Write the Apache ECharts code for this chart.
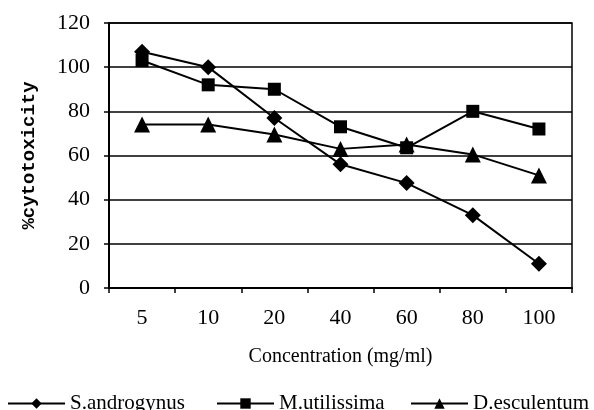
<!DOCTYPE html>
<html><head><meta charset="utf-8">
<script src="https://cdn.jsdelivr.net/npm/echarts@6/dist/echarts.min.js"></script>
<style>html,body{margin:0;padding:0;background:#fff}#c{width:594px;height:410px}</style>
</head><body><div id="c"></div>
<script>
const categories = ['5','10','20','40','60','80','100'];
const sAndrogynus = [107, 100, 77, 56, 47.5, 33, 11];
const mUtilissima = [103, 92, 90, 73, 63.5, 80, 72];
const dEsculentum = [74, 74, 69.5, 63, 65, 60.5, 51];
const seriesNames = ['S.androgynus', 'M.utilissima', 'D.esculentum'];

const font = 'Liberation Serif, Times New Roman, serif';
const chart = echarts.init(document.getElementById('c'));
function mk(name, data, symbol, size) {
  return {
    name, type: 'line', data, symbol, symbolSize: size,
    itemStyle: { color: '#000' },
    lineStyle: { color: '#000', width: 2 },
    emphasis: { disabled: true }, animation: false
  };
}
function lg(name, left) {
  return {
    top: 388, left, itemWidth: 57, itemHeight: 13, padding: [5, 0, 5, 5],
    textStyle: { fontFamily: font, fontSize: 21, color: '#000' },
    data: [name]
  };
}
chart.setOption({
  animation: false,
  grid: { left: 109, right: 22, top: 23, bottom: 122, show: true, borderColor: '#000', borderWidth: 1.5, backgroundColor: 'transparent' },
  legend: [lg(seriesNames[0], 2), lg(seriesNames[1], 211), lg(seriesNames[2], 405)],
  xAxis: {
    type: 'category', data: categories, boundaryGap: true,
    name: 'Concentration (mg/ml)', nameLocation: 'middle', nameGap: 59,
    nameTextStyle: { fontFamily: font, fontSize: 20, color: '#000' },
    axisLine: { lineStyle: { color: '#000', width: 2 } },
    axisTick: { show: true, length: 5, lineStyle: { color: '#000', width: 1.5 } },
    axisLabel: { fontFamily: font, fontSize: 22, color: '#000', margin: 19 }
  },
  yAxis: {
    type: 'value', min: 0, max: 120, interval: 20,
    name: '%cytotoxicity', nameLocation: 'middle', nameGap: 70, nameRotate: 90,
    nameTextStyle: { fontFamily: 'Liberation Mono, DejaVu Sans Mono, monospace', fontSize: 19, color: '#000', fontWeight: 'bold' },
    axisLine: { show: true, lineStyle: { color: '#000', width: 2 } },
    axisTick: { show: true, length: 5, lineStyle: { color: '#000', width: 1.5 } },
    axisLabel: { fontFamily: font, fontSize: 22, color: '#000', margin: 19 },
    splitLine: { lineStyle: { color: '#000', width: 1.5 } }
  },
  series: [
    mk(seriesNames[0], sAndrogynus, 'diamond', 16),
    mk(seriesNames[1], mUtilissima, 'rect', 13),
    mk(seriesNames[2], dEsculentum, 'triangle', 16)
  ]
});
</script></body></html>
